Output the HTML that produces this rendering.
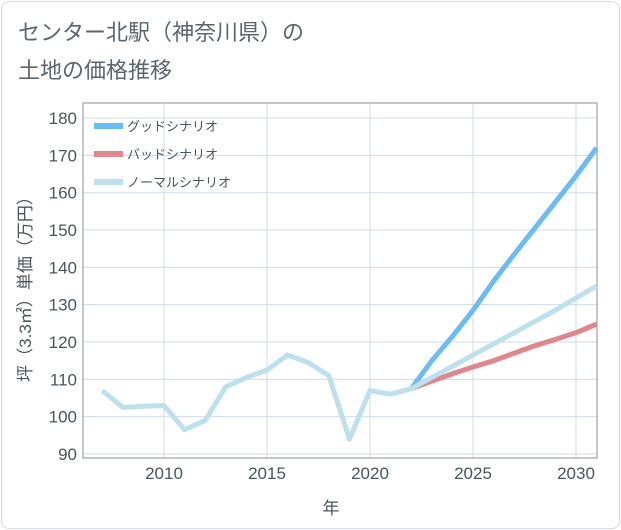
<!DOCTYPE html>
<html><head><meta charset="utf-8"><style>
body{margin:0;width:621px;height:530px;background:#fff;font-family:"Liberation Sans","Noto Sans CJK JP",sans-serif;}
#card{position:absolute;left:1px;top:1px;width:617px;height:526px;border:1px solid #d5dbe3;border-radius:8px;}
</style></head><body>
<div id="card"></div>
<svg id="c" width="621" height="530" style="position:absolute;left:0;top:0">
<text x="18" y="40" font-size="22" fill="#5b6570">センター北駅（神奈川県）の</text>
<text x="18" y="78" font-size="22" fill="#5b6570">土地の価格推移</text>
<g id="grid"></g><g id="series"></g>
<text x="331" y="514" font-size="17" fill="#4a5560" text-anchor="middle">年</text>
<text transform="translate(31,285) rotate(-90)" font-size="17" fill="#4a5560" text-anchor="middle">坪（3.3㎡）単価（万円）</text>
</svg>
<script>
const histYears=[2007,2008,2009,2010,2011,2012,2013,2014,2015,2016,2017,2018,2019,2020,2021,2022];
const histValues=[107,102.5,102.8,103,96.5,99,108,110.5,112.5,116.5,114.5,111,94,107,106,107.5];
const futYears=[2022,2023,2024,2025,2026,2027,2028,2029,2030,2031];
const goodValues=[107.5,115,121.5,128.5,136.3,143.5,150.5,157.5,164.5,172];
const badValues=[107.5,109.5,111.5,113.3,115,117,119,120.7,122.5,124.8];
const normalValues=[107.5,110.5,113.5,116.5,119.5,122.5,125.5,128.5,131.8,135];
const yTicks=[90,100,110,120,130,140,150,160,170,180];
const xTicks=[2010,2015,2020,2025,2030];
const L=83,R=597,T=103,B=458;
const x=v=>164+(v-2010)*20.6;
const y=v=>454-(v-90)*3.733;
const NS='http://www.w3.org/2000/svg';
const g=document.getElementById('grid'),s=document.getElementById('series');
function mk(p,tag,a){const e=document.createElementNS(NS,tag);for(const k in a)e.setAttribute(k,a[k]);p.appendChild(e);return e;}
yTicks.forEach(v=>{
 const l=mk(g,'line',{x1:L,x2:R,y1:y(v),y2:y(v),stroke:'#d0dbe7','stroke-width':1});
 
 
 const t=mk(g,'text',{x:L-6,y:y(v)+6,'font-size':17,fill:'#4a5560','text-anchor':'end'});t.textContent=v;
 
 
});
xTicks.forEach(v=>{
 const l=mk(g,'line',{x1:x(v),x2:x(v),y1:T,y2:B,stroke:'#d0dbe7','stroke-width':1});
 
 
 const t=mk(g,'text',{x:x(v),y:B+21,'font-size':17,fill:'#4a5560','text-anchor':'middle'});t.textContent=v;
 
 
});
const f=mk(g,'rect',{x:L,y:T,width:R-L,height:B-T,fill:'none',stroke:'#8a9099','stroke-width':1});


function line(xs,vs,c,n){const p=mk(s,'polyline',{points:xs.map((a,i)=>x(a)+','+y(vs[i])).join(' '),fill:'none',stroke:c,'stroke-width':5,'stroke-linejoin':'round'});
 
 }
line(futYears,goodValues,'#6bbcf5','good-scenario-line');
line(futYears,badValues,'#e0868c','bad-scenario-line');
line(histYears,histValues,'#bde0ee','historical-line');
line(futYears,normalValues,'#bde0ee','normal-scenario-line');
[['グッドシナリオ','#6bbcf5'],['バッドシナリオ','#e0868c'],['ノーマルシナリオ','#bde0ee']].forEach((d,i)=>{
 const yy=126+i*28;
 const r=mk(s,'rect',{x:94,y:yy-3,width:29,height:6,fill:d[1]});
 
 
 const t=mk(s,'text',{x:127,y:yy+5,'font-size':13,fill:'#4a5560'});t.textContent=d[0];
 
 
});
</script>
</body></html>
